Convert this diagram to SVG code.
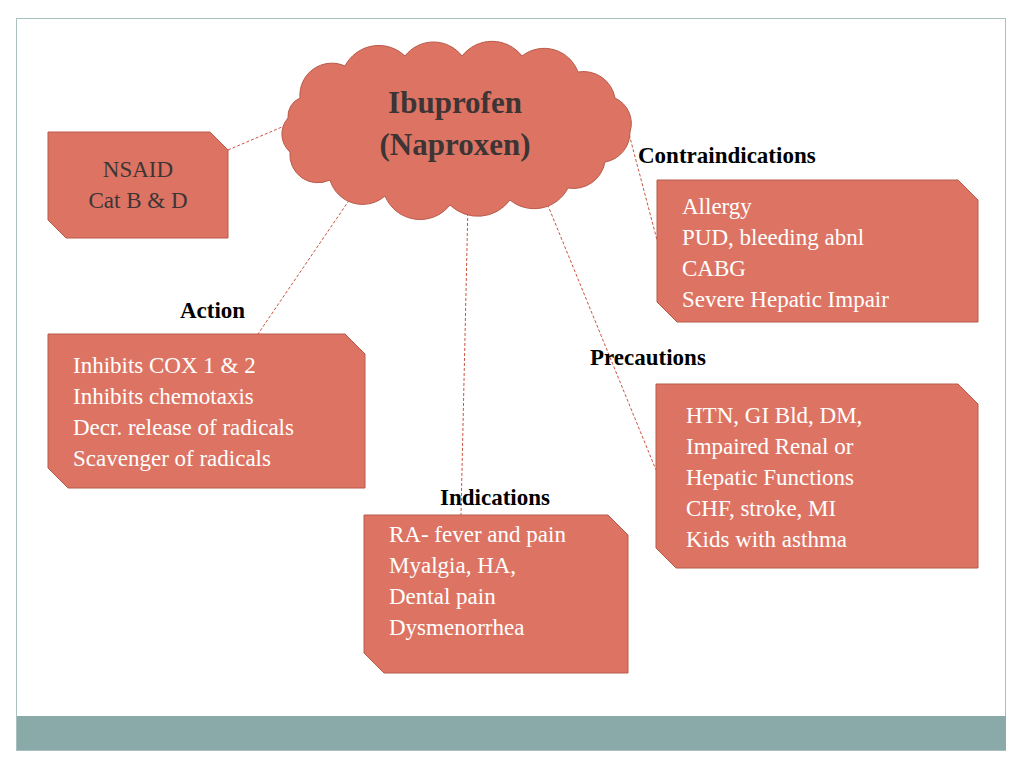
<svg xmlns="http://www.w3.org/2000/svg" width="1024" height="768" viewBox="0 0 1024 768">
<style>
.box{fill:#dd7463;stroke:#b85a4a;stroke-width:1}
.t{font-family:"Liberation Serif",serif;font-size:23px;fill:#ffffff}
.h{font-family:"Liberation Serif",serif;font-size:23px;font-weight:bold;fill:#000}
.c{stroke:#c9543f;stroke-width:1;stroke-dasharray:3,2;fill:none}
</style>
<rect x="0" y="0" width="1024" height="768" fill="#fff"/>
<rect x="16.5" y="18.5" width="989" height="732" fill="#fff" stroke="#a9c0bf"/>
<rect x="17" y="716" width="989" height="34" fill="#8aaaaa"/>
<g id="connectors">
<line class="c" x1="228" y1="150" x2="282" y2="127"/>
<line class="c" x1="352" y1="196" x2="258" y2="334"/>
<line class="c" x1="468" y1="203" x2="461" y2="515"/>
<line class="c" x1="540" y1="186" x2="656" y2="470"/>
<line class="c" x1="628" y1="130" x2="657" y2="240"/>
</g>
<g id="cloud">
<path class="box" d="M300,98 A32,32 0 0 1 345,66 A38,38 0 0 1 405,56 A36,36 0 0 1 462,56 A38,38 0 0 1 522,56 A36,36 0 0 1 578,72 A32,32 0 0 1 615,98 A28,28 0 0 1 630,132 A30,30 0 0 1 605,162 A32,32 0 0 1 568,188 A38,38 0 0 1 510,200 A40,40 0 0 1 450,205 A38,38 0 0 1 385,196 A34,34 0 0 1 330,180 A28,28 0 0 1 290,152 A24,24 0 0 1 288,118 A20,20 0 0 1 300,98 Z"/>
<text x="455" y="113" text-anchor="middle" font-family="Liberation Serif,serif" font-size="31" font-weight="bold" fill="#3d3535">Ibuprofen</text>
<text x="455" y="155" text-anchor="middle" font-family="Liberation Serif,serif" font-size="31" font-weight="bold" fill="#3d3535">(Naproxen)</text>
</g>
<g id="nsaid">
<path class="box" d="M48,132 H210 L228,150 V238 H66 L48,220 Z"/>
<text x="138" y="177" text-anchor="middle" font-family="Liberation Serif,serif" font-size="23" fill="#3d3535">NSAID</text>
<text x="138" y="208" text-anchor="middle" font-family="Liberation Serif,serif" font-size="23" fill="#3d3535">Cat B &amp; D</text>
</g>
<g id="action">
<text class="h" x="180" y="318">Action</text>
<path class="box" d="M48,334 H345 L365,354 V488 H68 L48,468 Z"/>
<text class="t" x="73" y="373">Inhibits COX 1 &amp; 2</text>
<text class="t" x="73" y="404">Inhibits chemotaxis</text>
<text class="t" x="73" y="435">Decr. release of radicals</text>
<text class="t" x="73" y="466">Scavenger of radicals</text>
</g>
<g id="contra">
<text class="h" x="638" y="163">Contraindications</text>
<path class="box" d="M657,180 H958 L978,200 V322 H677 L657,302 Z"/>
<text class="t" x="682" y="214">Allergy</text>
<text class="t" x="682" y="245">PUD, bleeding abnl</text>
<text class="t" x="682" y="276">CABG</text>
<text class="t" x="682" y="307">Severe Hepatic Impair</text>
</g>
<g id="prec">
<text class="h" x="590" y="365">Precautions</text>
<path class="box" d="M656,384 H958 L978,404 V568 H676 L656,548 Z"/>
<text class="t" x="686" y="423">HTN, GI Bld, DM,</text>
<text class="t" x="686" y="454"> Impaired Renal or</text>
<text class="t" x="686" y="485">Hepatic Functions</text>
<text class="t" x="686" y="516">CHF, stroke, MI</text>
<text class="t" x="686" y="547">Kids with asthma</text>
</g>
<g id="ind">
<text class="h" x="440" y="505">Indications</text>
<path class="box" d="M364,515 H608 L628,535 V673 H384 L364,653 Z"/>
<text class="t" x="389" y="542">RA- fever and pain</text>
<text class="t" x="389" y="573">Myalgia, HA,</text>
<text class="t" x="389" y="604">Dental pain</text>
<text class="t" x="389" y="635">Dysmenorrhea</text>
</g>
</svg>
